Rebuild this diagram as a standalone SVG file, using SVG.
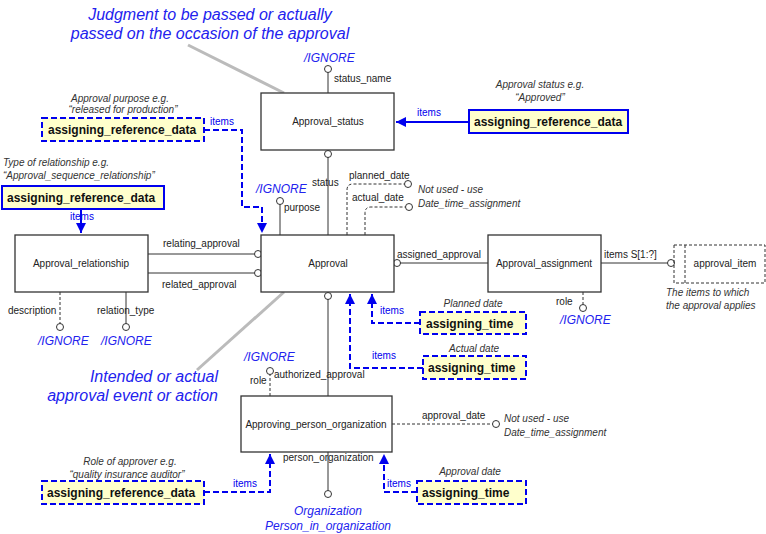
<svg xmlns="http://www.w3.org/2000/svg" width="766" height="534" viewBox="0 0 766 534">
<style>
text{font-family:"Liberation Sans",Arial,sans-serif;font-size:10px;fill:#222}
.ent{fill:#fff;stroke:#333;stroke-width:1.3}
.ent text{font-size:10.5px}
.c{text-anchor:middle}
.ln{stroke:#333;fill:none;stroke-width:1}
.dl{stroke:#333;fill:none;stroke-dasharray:3,2}
.o{fill:#fff;stroke:#333;stroke-width:1}
.bl{stroke:#0000ee;fill:none;stroke-width:2}
.bd{stroke:#0000ee;fill:none;stroke-width:2;stroke-dasharray:6,3}
.yb{fill:#ffffcc;stroke:#0000ee;stroke-width:2}
.yd{fill:#ffffcc;stroke:#0000ee;stroke-width:2;stroke-dasharray:6,3}
.yt{font-weight:bold;font-size:12px;fill:#111}
.bt{fill:#0000ee}
.ig{fill:#2222ee;font-style:italic;font-size:12px}
.it{font-style:italic;fill:#333}
.big{fill:#2222ee;font-style:italic;font-size:16px}
.gr{stroke:#bbb;stroke-width:3;fill:none}
</style>
<defs>
<marker id="ah" viewBox="0 0 10 10" refX="10" refY="5" markerWidth="5" markerHeight="5" orient="auto"><path d="M0,0L10,5L0,10z" fill="#0000ee"/></marker>
</defs>

<g id="notes">
<text class="big c" x="210" y="20">Judgment to be passed or actually</text>
<text class="big c" x="210" y="39">passed on the occasion of the approval</text>
<text class="big" x="218" y="382" text-anchor="end">Intended or actual</text>
<text class="big" x="218" y="401" text-anchor="end">approval event or action</text>
<path class="gr" d="M188,45L284,93"/>
<path class="gr" d="M284,292L197,370"/>
</g>

<g id="connectors">
<path class="ln" d="M328,93V72"/><circle class="o" cx="328" cy="69" r="3.5"/>
<text x="334" y="82">status_name</text><text class="ig" x="304" y="62">/IGNORE</text>
<circle class="o" cx="328" cy="154" r="3.5"/><path class="ln" d="M328,157V235"/>
<text x="312" y="186">status</text>
<path class="ln" d="M280,235V204"/><circle class="o" cx="280" cy="201" r="3.5"/>
<text x="284" y="211">purpose</text><text class="ig" x="256" y="193">/IGNORE</text>
<path class="dl" d="M347,235V190Q347,184 353,184H405"/><circle class="o" cx="408" cy="184" r="3.5"/>
<text x="349" y="179">planned_date</text>
<path class="dl" d="M365,235V213Q365,207 371,207H406"/><circle class="o" cx="409" cy="207" r="3.5"/>
<text x="352" y="201">actual_date</text>
<text class="it" x="418" y="193">Not used - use</text><text class="it" x="418" y="207">Date_time_assignment</text>
<path class="ln" d="M148,254H255"/><circle class="o" cx="258" cy="254" r="3.5"/>
<text x="163" y="247">relating_approval</text>
<path class="ln" d="M148,273H255"/><circle class="o" cx="258" cy="273" r="3.5"/>
<text x="162" y="288">related_approval</text>
<circle class="o" cx="397" cy="263" r="3.5"/><path class="ln" d="M400,263H488"/>
<text x="397" y="258">assigned_approval</text>
<path class="ln" d="M601,263H668"/><circle class="o" cx="671" cy="263" r="3.5"/>
<text x="604" y="258">items S[1:?]</text>
<path class="dl" d="M583,292V305"/><circle class="o" cx="583" cy="308" r="3.5"/>
<text x="556" y="305">role</text><text class="ig" x="560" y="324">/IGNORE</text>
<path class="dl" d="M60,292V324"/><circle class="o" cx="60" cy="327" r="3.5"/>
<text x="8" y="314">description</text>
<path class="ln" d="M126,292V324"/><circle class="o" cx="126" cy="327" r="3.5"/>
<text x="97" y="314">relation_type</text>
<text class="ig" x="38" y="345">/IGNORE</text><text class="ig" x="101" y="345">/IGNORE</text>
<circle class="o" cx="328" cy="296" r="3.5"/><path class="ln" d="M328,299V396"/>
<text x="274" y="378">authorized_approval</text>
<path class="dl" d="M270,396V374"/><circle class="o" cx="270" cy="371" r="3.5"/>
<text x="250" y="384">role</text><text class="ig" x="244" y="361">/IGNORE</text>
<path class="dl" d="M392,424H493"/><circle class="o" cx="496" cy="424" r="3.5"/>
<text x="422" y="419">approval_date</text>
<text class="it" x="504" y="422">Not used - use</text><text class="it" x="504" y="436">Date_time_assignment</text>
<path class="ln" d="M328,452V491"/><circle class="o" cx="328" cy="494" r="3.5"/>
<text x="283" y="461">person_organization</text>
<text class="ig c" x="328" y="515">Organization</text><text class="ig c" x="328" y="530">Person_in_organization</text>

<path class="bd" d="M204,130H242V207H262V233" marker-end="url(#ah)"/>
<text class="bt" x="210" y="125">items</text>
<path class="bl" d="M81,209V233" marker-end="url(#ah)"/>
<text class="bt" x="70" y="220">items</text>
<path class="bl" d="M469,122H396" marker-end="url(#ah)"/>
<text class="bt" x="417" y="116">items</text>
<path class="bd" d="M420,323H372V294" marker-end="url(#ah)"/>
<text class="bt" x="380" y="314">items</text>
<path class="bd" d="M423,368H350V294" marker-end="url(#ah)"/>
<text class="bt" x="372" y="359">items</text>
<path class="bd" d="M204,492H270V454" marker-end="url(#ah)"/>
<text class="bt" x="233" y="487">items</text>
<path class="bd" d="M417,492H384V454" marker-end="url(#ah)"/>
<text class="bt" x="387" y="487">items</text>
</g>

<g id="Approval_status"><rect class="ent" x="261" y="93" width="133" height="57"/><text class="c" x="328" y="125">Approval_status</text></g>
<g id="Approval"><rect class="ent" x="261" y="235" width="133" height="57"/><text class="c" x="328" y="267">Approval</text></g>
<g id="Approval_relationship"><rect class="ent" x="15" y="235" width="133" height="57"/><text class="c" x="81" y="267">Approval_relationship</text></g>
<g id="Approval_assignment"><rect class="ent" x="488" y="235" width="113" height="57"/><text class="c" x="544" y="267">Approval_assignment</text></g>
<g id="approval_item"><rect class="dl" x="674" y="245" width="91" height="38" stroke="#555"/><path class="dl" d="M685,245V283" stroke="#555"/><text class="c" x="725" y="267">approval_item</text>
<text class="it" x="666" y="296">The items to which</text><text class="it" x="666" y="309">the approval applies</text></g>
<g id="Approving_person_organization"><rect class="ent" x="241" y="396" width="151" height="56"/><text class="c" x="316" y="428">Approving_person_organization</text></g>

<g id="ard1"><text class="it c" x="120" y="102">Approval purpose e.g.</text><text class="it c" x="123" y="113">“released for production”</text>
<rect class="yd" x="42" y="118" width="162" height="23"/><text class="yt" x="48" y="134">assigning_reference_data</text></g>
<g id="ard2"><text class="it" x="3" y="166">Type of relationship e.g.</text><text class="it" x="3" y="179">“Approval_sequence_relationship”</text>
<rect class="yb" x="2" y="186" width="162" height="23"/><text class="yt" x="7" y="202">assigning_reference_data</text></g>
<g id="ard3"><text class="it c" x="540" y="88">Approval status e.g.</text><text class="it c" x="540" y="101">“Approved”</text>
<rect class="yb" x="469" y="110" width="159" height="23"/><text class="yt" x="474" y="126">assigning_reference_data</text></g>
<g id="at1"><text class="it c" x="473" y="307">Planned date</text>
<rect class="yd" x="420" y="312" width="106" height="22"/><text class="yt" x="426" y="328">assigning_time</text></g>
<g id="at2"><text class="it c" x="474" y="352">Actual date</text>
<rect class="yd" x="423" y="356" width="103" height="23"/><text class="yt" x="428" y="372">assigning_time</text></g>
<g id="ard4"><text class="it c" x="130" y="465">Role of approver e.g.</text><text class="it c" x="127" y="478">“quality insurance auditor”</text>
<rect class="yd" x="42" y="481" width="162" height="23"/><text class="yt" x="47" y="497">assigning_reference_data</text></g>
<g id="at3"><text class="it c" x="470" y="475">Approval date</text>
<rect class="yd" x="417" y="481" width="109" height="23"/><text class="yt" x="422" y="497">assigning_time</text></g>
</svg>
